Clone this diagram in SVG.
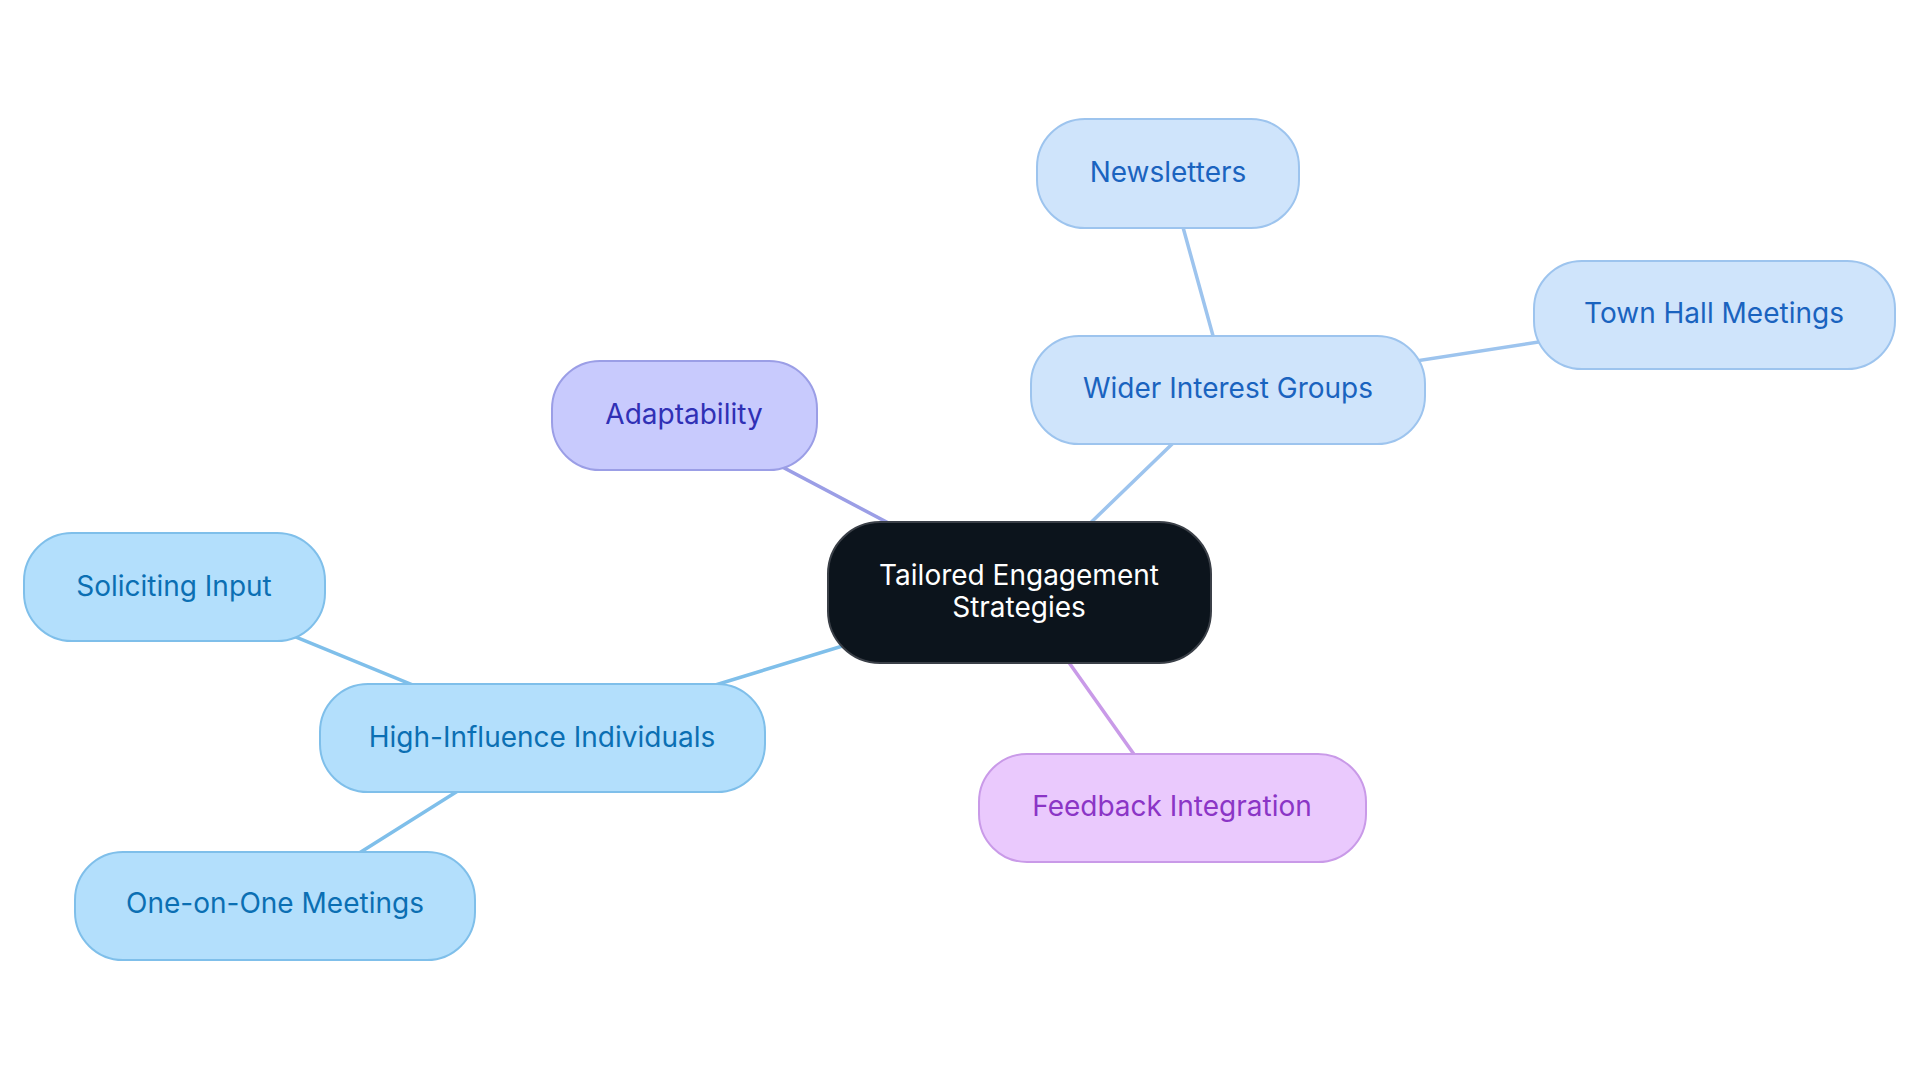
<svg xmlns="http://www.w3.org/2000/svg" width="1920" height="1083" viewBox="0 0 1920 1083">
<style>
text{font-family:Inter,"Noto Sans","Liberation Sans",sans-serif;font-size:28px;text-anchor:middle}
.c{stroke-width:3.5;fill:none;stroke-linecap:round}
.b rect{fill:#cfe4fb;stroke:#9dc4ee;stroke-width:2}
.b text{fill:#1a63bf}
.h rect{fill:#b3dffc;stroke:#7fbfea;stroke-width:2}
.h text{fill:#0b6fb3}
.a rect{fill:#c8cafd;stroke:#9b9ee6;stroke-width:2}
.a text{fill:#3030b5}
.f rect{fill:#eac9fd;stroke:#c99ae8;stroke-width:2}
.f text{fill:#8b35c6}
</style>
<rect width="1920" height="1083" fill="#ffffff"/>
<g id="connectors">
<line class="c" x1="1019" y1="592" x2="1228" y2="390" stroke="#9dc4ee"/>
<line class="c" x1="1228" y1="390" x2="1168" y2="173" stroke="#9dc4ee"/>
<line class="c" x1="1228" y1="390" x2="1714" y2="315" stroke="#9dc4ee"/>
<line class="c" x1="1019" y1="592" x2="684" y2="415" stroke="#9b9ee6"/>
<line class="c" x1="1019" y1="592" x2="542" y2="738" stroke="#7fbfea"/>
<line class="c" x1="542" y1="738" x2="174" y2="587" stroke="#7fbfea"/>
<line class="c" x1="542" y1="738" x2="275" y2="906" stroke="#7fbfea"/>
<line class="c" x1="1019" y1="592" x2="1172" y2="808" stroke="#c99ae8"/>
</g>
<g id="central">
<rect x="828" y="522" width="383" height="141" rx="52" fill="#0c141c" stroke="#3b4048" stroke-width="2"/>
<text x="1019" y="585" fill="#ffffff">Tailored Engagement</text>
<text x="1019" y="617" fill="#ffffff">Strategies</text>
</g>
<g id="wider" class="b">
<rect x="1031" y="336" width="394" height="108" rx="48"/>
<text x="1228" y="398">Wider Interest Groups</text>
</g>
<g id="newsletters" class="b">
<rect x="1037" y="119" width="262" height="109" rx="48"/>
<text x="1168" y="182">Newsletters</text>
</g>
<g id="townhall" class="b">
<rect x="1534" y="261" width="361" height="108" rx="48"/>
<text x="1714" y="323">Town Hall Meetings</text>
</g>
<g id="adaptability" class="a">
<rect x="552" y="361" width="265" height="109" rx="48"/>
<text x="684" y="424">Adaptability</text>
</g>
<g id="high" class="h">
<rect x="320" y="684" width="445" height="108" rx="48"/>
<text x="542" y="747">High-Influence Individuals</text>
</g>
<g id="soliciting" class="h">
<rect x="24" y="533" width="301" height="108" rx="48"/>
<text x="174" y="596">Soliciting Input</text>
</g>
<g id="oneonone" class="h">
<rect x="75" y="852" width="400" height="108" rx="48"/>
<text x="275" y="913">One-on-One Meetings</text>
</g>
<g id="feedback" class="f">
<rect x="979" y="754" width="387" height="108" rx="48"/>
<text x="1172" y="816">Feedback Integration</text>
</g>
</svg>
